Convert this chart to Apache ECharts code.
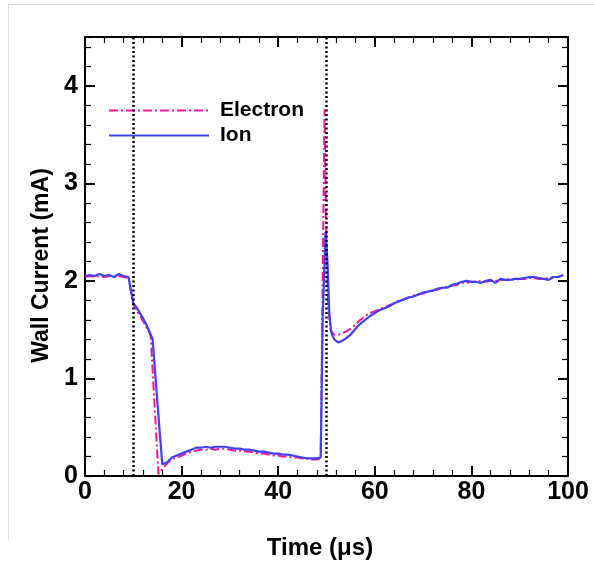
<!DOCTYPE html>
<html>
<head>
<meta charset="utf-8">
<script src="https://cdn.jsdelivr.net/npm/echarts@6/dist/echarts.min.js"></script>
<style>
  html, body { margin: 0; padding: 0; background: #fff; }
  #chart { width: 594px; height: 572px; }
</style>
</head>
<body>
<div id="chart"></div>
<script>
  // time (us) and current (mA)
  var ionTime = [0, 1, 2, 3, 4, 5, 6, 7, 8, 9, 9.3, 10, 10.5, 11, 12, 13, 14, 15, 16, 16.3, 17, 18, 19, 20,
    21, 22, 23, 24, 25, 26, 27, 28, 29, 30, 31, 32, 33, 34, 35, 36, 37, 38, 39, 40, 41, 42, 43, 44, 45, 46, 47, 48, 48.8,
    49.2, 49.8, 50.2, 50.6, 51, 51.6, 52.4, 53, 54, 55, 56, 57, 58, 59, 60, 61, 62, 63, 64, 65, 66, 67, 68, 69, 70,
    71, 72, 73, 74, 75, 76, 77, 78, 79, 80, 81, 82, 83, 84, 85, 86, 87, 88, 89, 90, 91, 92, 93, 94, 95, 96, 97, 98, 99];
  var ionVals = [2.05, 2.06, 2.05, 2.07, 2.05, 2.06, 2.04, 2.07, 2.05, 2.04, 2.04, 1.77, 1.74, 1.70, 1.62, 1.52, 1.40, 0.75, 0.12, 0.11, 0.14, 0.19, 0.21, 0.23,
    0.25, 0.27, 0.29, 0.29, 0.30, 0.29, 0.30, 0.30, 0.30, 0.29, 0.28, 0.28, 0.27, 0.27, 0.26, 0.25, 0.25, 0.24, 0.23, 0.23, 0.22, 0.22, 0.21, 0.20, 0.19, 0.18, 0.18, 0.18, 0.19,
    1.6, 2.50, 2.2, 1.65, 1.47, 1.40, 1.37, 1.38, 1.41, 1.45, 1.51, 1.56, 1.60, 1.64, 1.67, 1.70, 1.72, 1.74, 1.77, 1.79, 1.81, 1.83, 1.84, 1.86, 1.88,
    1.89, 1.90, 1.92, 1.93, 1.93, 1.96, 1.97, 1.99, 2.00, 1.99, 1.99, 1.98, 2.00, 2.01, 1.98, 2.02, 2.01, 2.01, 2.02, 2.02, 2.03, 2.04, 2.04, 2.03, 2.02, 2.01, 2.04, 2.04, 2.06];

  var elTime = [0, 1, 2, 3, 4, 5, 6, 7, 8, 9, 9.3, 10, 10.5, 11, 12, 13, 13.6, 15.2, 16, 17, 18, 19, 20,
    21, 22, 23, 24, 25, 26, 27, 28, 29, 30, 31, 32, 33, 34, 35, 36, 37, 38, 39, 40, 41, 42, 43, 44, 45, 46, 47, 48, 48.8,
    49.1, 49.6, 49.9, 50.3, 50.8, 51.5, 52.5, 53, 54, 55, 56, 57, 58, 59, 60, 61, 62, 63, 64, 65, 66, 67, 68, 69, 70,
    71, 72, 73, 74, 75, 76, 77, 78, 79, 80, 81, 82, 83, 84, 85, 86, 87, 88, 89, 90, 91, 92, 93, 94, 95, 96, 97, 98, 99];
  var elVals = [2.04, 2.05, 2.04, 2.05, 2.04, 2.05, 2.04, 2.05, 2.04, 2.03, 2.03, 1.76, 1.72, 1.67, 1.59, 1.50, 1.44, 0.02, 0.07, 0.13, 0.17, 0.19, 0.21,
    0.23, 0.25, 0.26, 0.27, 0.27, 0.28, 0.27, 0.28, 0.28, 0.27, 0.26, 0.26, 0.25, 0.25, 0.24, 0.23, 0.23, 0.22, 0.21, 0.21, 0.20, 0.20, 0.19, 0.19, 0.18, 0.18, 0.17, 0.17, 0.18,
    1.5, 3.76, 2.6, 1.8, 1.50, 1.45, 1.45, 1.46, 1.48, 1.51, 1.55, 1.60, 1.64, 1.67, 1.69, 1.71, 1.73, 1.75, 1.77, 1.80, 1.81, 1.83, 1.85, 1.86, 1.87,
    1.89, 1.91, 1.91, 1.93, 1.94, 1.95, 1.96, 1.98, 1.98, 1.99, 1.99, 2.00, 1.99, 2.00, 2.00, 2.01, 2.01, 2.02, 2.01, 2.02, 2.02, 2.03, 2.03, 2.02, 2.02, 2.03, 2.04, 2.04, 2.05];

  var markTimes = [10, 50];
  var seriesNames = ['Electron', 'Ion'];

  var font = 'Liberation Sans, Arial, sans-serif';
  var pink = '#ff1493';
  var blue = '#4040f5';

  function pairs(t, v) {
    var out = [];
    for (var i = 0; i < t.length; i++) out.push([t[i], v[i]]);
    return out;
  }

  function yAx(pos, step, len, labels) {
    return {
      type: 'value', position: pos, min: 0, max: 4.5, interval: step,
      axisLine: { show: step === 1, onZero: false, lineStyle: { color: '#000', width: 2 } },
      axisTick: { show: true, inside: true, length: len, lineStyle: { color: '#000', width: step === 1 ? 2 : 1.2 } },
      axisLabel: { show: labels, showMaxLabel: false, margin: 7, color: '#000', fontSize: 25, fontWeight: 'bold', fontFamily: font },
      splitLine: { show: false },
      name: labels ? 'Wall Current (mA)' : '',
      nameLocation: 'middle', nameGap: 32,
      nameTextStyle: { color: '#000', fontSize: 23, fontWeight: 'bold', fontFamily: font, padding: [0, 18, 0, 0] }
    };
  }

  function xAx(pos, labels) {
    return {
      type: 'value', position: pos, min: 0, max: 100, interval: 20,
      axisLine: { show: true, onZero: false, lineStyle: { color: '#000', width: 2 } },
      axisTick: { show: true, inside: true, length: 10, lineStyle: { color: '#000', width: 2 } },
      minorTick: { show: true, splitNumber: 5, length: 6, lineStyle: { color: '#000', width: 1.2 } },
      axisLabel: { show: labels, margin: 4, color: '#000', fontSize: 25, fontWeight: 'bold', fontFamily: font },
      splitLine: { show: false },
      name: labels ? 'Time (μs)' : '',
      nameLocation: 'middle', nameGap: 60,
      nameTextStyle: { color: '#000', fontSize: 24, fontWeight: 'bold', fontFamily: font, padding: [0, 13, 0, 0] }
    };
  }

  var chart = echarts.init(document.getElementById('chart'));
  var option = {
    animation: false,
    backgroundColor: '#fff',
    grid: { left: 85, right: 26, top: 37, bottom: 96 },
    graphic: [
      { type: 'line', shape: { x1: 8, y1: 4.5, x2: 594, y2: 4.5 }, style: { stroke: '#dedede', lineWidth: 1 } },
      { type: 'line', shape: { x1: 8.5, y1: 4.5, x2: 8.5, y2: 540 }, style: { stroke: '#dedede', lineWidth: 1 } }
    ],
    legend: {
      orient: 'vertical', left: 103, top: 95,
      itemWidth: 100, itemHeight: 20, itemGap: 4,
      data: seriesNames,
      itemStyle: { opacity: 0 },
      textStyle: { color: '#000', fontSize: 21, fontWeight: 'bold', fontFamily: font, lineHeight: 20, padding: [0, 0, 0, 6] }
    },
    xAxis: [xAx('bottom', true), xAx('top', false)],
    yAxis: [yAx('left', 1, 10, true), yAx('left', 0.2, 6, false), yAx('right', 1, 10, false), yAx('right', 0.2, 6, false)],
    series: [
      {
        name: seriesNames[0], type: 'line', data: pairs(elTime, elVals),
        symbol: 'none', clip: true,
        lineStyle: { color: pink, width: 2, type: [9, 3, 2, 3] },
        itemStyle: { color: pink },
        markLine: {
          silent: true, symbol: ['none', 'none'], label: { show: false },
          lineStyle: { color: '#000', width: 2.5, type: [2, 2.5] },
          data: markTimes.map(function (t) { return { xAxis: t }; })
        }
      },
      {
        name: seriesNames[1], type: 'line', data: pairs(ionTime, ionVals),
        symbol: 'none', clip: true,
        lineStyle: { color: blue, width: 2.2 },
        itemStyle: { color: blue }
      }
    ]
  };
  chart.setOption(option);
</script>
</body>
</html>
